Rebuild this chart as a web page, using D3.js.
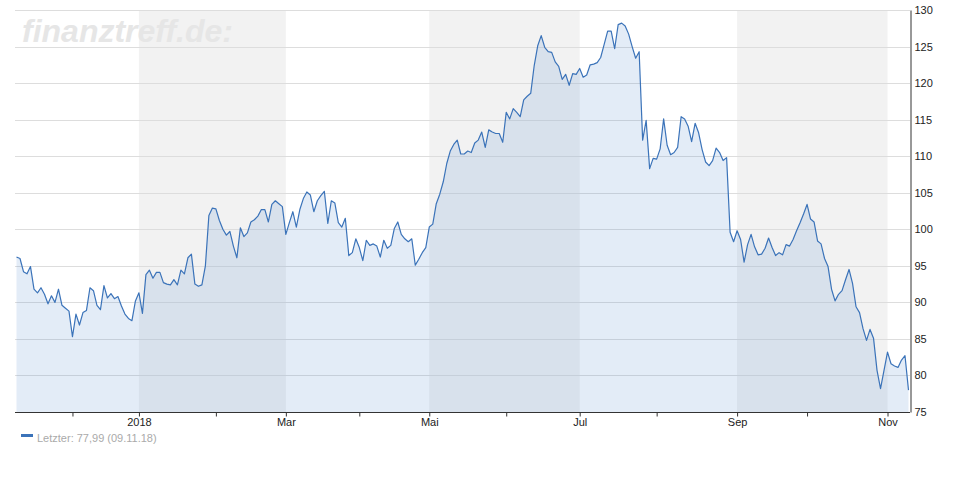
<!DOCTYPE html>
<html><head><meta charset="utf-8">
<script src="https://cdn.jsdelivr.net/npm/d3@7"></script>
<style>
body{margin:0;background:#fff;}
svg{display:block;font-family:"Liberation Sans",Arial,sans-serif;}
</style>
</head><body>
<svg id="c" width="970" height="500"></svg>
<script>
// ---- data ----
const startDate = "2017-11-09";
const endDate = "2018-11-09";
const holidays = ["2017-12-25","2017-12-26","2018-01-01","2018-03-30","2018-04-02","2018-05-01"];
const values = [
 96.2,96.0,94.2,93.9,94.9,91.8,91.3,92.0,91.1,89.8,
 90.9,90.0,91.8,89.6,89.2,88.8,85.3,88.4,86.9,88.6,
 88.9,92.0,91.6,89.6,89.0,92.3,90.6,91.2,90.5,90.8,
 89.5,88.4,87.8,87.5,90.2,91.3,88.5,93.8,94.4,93.3,
 94.1,94.1,92.7,92.5,92.4,93.1,92.4,94.4,93.9,96.1,
 96.6,92.5,92.2,92.4,95.0,101.9,102.9,102.8,101.2,100.0,
 99.2,99.7,97.7,96.1,100.2,99.0,99.5,101.0,101.3,101.8,
 102.7,102.7,101.0,103.4,103.9,103.5,103.1,99.3,100.9,102.4,
 100.3,102.7,104.2,105.1,104.7,102.4,103.9,104.6,105.2,100.8,
 103.9,103.6,100.9,100.3,101.5,96.4,96.8,98.7,97.5,95.7,
 98.5,97.8,98.0,97.7,96.2,98.5,97.4,97.8,100.1,101.0,
 99.3,98.7,98.3,98.7,95.1,95.9,96.8,97.5,100.3,100.7,
 103.5,104.8,106.5,109.0,110.7,111.6,112.2,110.3,110.3,110.7,
 110.5,111.8,112.2,113.3,111.2,113.6,113.3,113.1,113.1,111.9,
 116.0,115.1,116.5,116.0,115.4,117.7,118.2,118.6,122.4,125.1,
 126.5,124.9,124.3,124.2,122.9,122.3,120.5,121.2,119.7,121.3,
 121.2,122.0,120.8,121.1,122.5,122.6,122.8,123.5,125.3,127.1,
 127.1,124.7,128.0,128.2,127.8,126.7,125.0,123.4,124.3,112.2,
 114.9,108.3,109.7,109.6,111.0,115.1,111.5,110.2,110.5,111.2,
 115.4,115.1,114.1,112.0,114.5,113.2,110.9,109.2,108.7,109.4,
 111.1,110.5,109.4,109.8,99.6,98.3,99.8,98.6,95.5,97.9,
 99.3,97.6,96.5,96.6,97.4,98.8,97.5,96.4,96.8,96.5,
 97.9,97.7,98.6,99.8,100.9,102.1,103.4,101.4,101.0,98.4,
 98.0,96.0,94.9,91.8,90.2,91.1,91.6,93.1,94.5,92.6,
 89.4,88.6,86.4,84.8,86.3,85.1,80.7,78.2,80.7,83.2,
 81.6,81.3,81.1,82.1,82.7,78.0
];
const yTicks = [75,80,85,90,95,100,105,110,115,120,125,130];
const tickMonths = ["2017-12","2018-01","2018-02","2018-03","2018-04","2018-05","2018-06","2018-07","2018-08","2018-09","2018-10","2018-11"];
const tickLabels = ["","2018","","Mar","","Mai","","Jul","","Sep","","Nov"];
const bandMonths = [["2018-01","2018-03"],["2018-05","2018-07"],["2018-09","2018-11"]];
const legendText = "Letzter: 77,99 (09.11.18)";
const watermarkText = "finanztreff.de:";

// ---- trading days ----
const fmt = d3.utcFormat("%Y-%m-%d");
const parse = d3.utcParse("%Y-%m-%d");
const dates = d3.utcDays(parse(startDate), d3.utcDay.offset(parse(endDate), 1))
  .filter(d => d.getUTCDay() !== 0 && d.getUTCDay() !== 6 && !holidays.includes(fmt(d)));
const n = values.length;
const monthIndex = m => dates.findIndex(d => fmt(d).slice(0,7) === m);

// ---- scales ----
const svg = d3.select("#c");
const x = d3.scaleLinear().domain([0, n - 1]).range([16.5, 908.5]);
const y = d3.scaleLinear().domain([75, 130]).range([412, 10]);
const plotL = 15, plotR = 910;

// bands
svg.append("g").selectAll("rect").data(bandMonths).join("rect")
  .attr("x", d => x(monthIndex(d[0])))
  .attr("width", d => x(monthIndex(d[1])) - x(monthIndex(d[0])))
  .attr("y", y(130)).attr("height", y(75) - y(130))
  .attr("fill", "#f2f2f2");

// gridlines
svg.append("g").selectAll("line").data(yTicks.filter(t => t > 75)).join("line")
  .attr("x1", plotL).attr("x2", plotR)
  .attr("y1", d => Math.round(y(d)) + 0.5).attr("y2", d => Math.round(y(d)) + 0.5)
  .attr("stroke", "#dddddd").attr("stroke-width", 1);

// watermark
svg.append("text").attr("x", 22).attr("y", 42)
  .attr("font-size", 32).attr("font-weight", "bold").attr("font-style", "italic")
  .attr("fill", "#e6e6e6").text(watermarkText);

// area + line
const area = d3.area().x((d, i) => x(i)).y0(y(75)).y1(d => y(d));
const line = d3.line().x((d, i) => x(i)).y(d => y(d));
svg.append("path").datum(values).attr("d", area)
  .attr("fill", "rgb(70,130,200)").attr("fill-opacity", 0.15);
svg.append("path").datum(values).attr("d", line)
  .attr("fill", "none").attr("stroke", "#3b73b9").attr("stroke-width", 1.2)
  .attr("stroke-linejoin", "round");

// x axis
const xAxis = d3.axisBottom(x)
  .tickValues(tickMonths.map(monthIndex))
  .tickFormat((d, i) => tickLabels[i])
  .tickSize(4).tickSizeOuter(0);
const gx = svg.append("g").attr("transform", "translate(0,412.5)").call(xAxis);
gx.select(".domain").attr("d", `M${plotL},0H${plotR}`).attr("stroke", "#333");
gx.selectAll(".tick line").attr("stroke", "#333");
gx.selectAll(".tick text").attr("font-size", 11).attr("fill", "#222")
  .attr("font-family", "Liberation Sans, Arial, sans-serif").attr("y", 6).attr("dy", "0.71em");

// y axis
const yAxis = d3.axisRight(y).tickValues(yTicks).tickSize(0).tickPadding(4);
const gy = svg.append("g").attr("transform", "translate(910.5,0)").call(yAxis);
gy.select(".domain").attr("stroke", "#333");
gy.selectAll(".tick text").attr("font-size", 11).attr("fill", "#222")
  .attr("font-family", "Liberation Sans, Arial, sans-serif");

// legend
svg.append("rect").attr("x", 21).attr("y", 434).attr("width", 12).attr("height", 3).attr("fill", "#3b73b9");
svg.append("text").attr("x", 37).attr("y", 442).attr("font-size", 11).attr("fill", "#aaaaaa").text(legendText);
</script>
</body></html>
